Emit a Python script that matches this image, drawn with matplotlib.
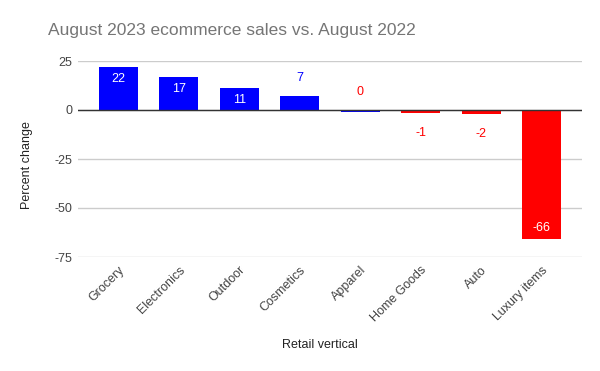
import matplotlib.pyplot as plt
import numpy as np

plt.rcParams['font.family'] = ['Liberation Sans', 'DejaVu Sans']

categories = ['Grocery', 'Electronics', 'Outdoor', 'Cosmetics', 'Apparel',
              'Home Goods', 'Auto', 'Luxury items']
values = [22, 17, 11, 7, -0.9, -1.3, -2.2, -66]
labels = ['22', '17', '11', '7', '0', '-1', '-2', '-66']
bar_colors = ['#0000ff', '#0000ff', '#0000ff', '#0000ff', '#0000ff',
              '#ff0000', '#ff0000', '#ff0000']
# where the label goes: inside the bar or outside of it
label_inside = [True, True, True, False, False, False, False, True]
label_colors = ['white', 'white', 'white', '#0000ff', '#ff0000',
                '#ff0000', '#ff0000', 'white']
yticks = [25, 0, -25, -50, -75]

fig = plt.figure(figsize=(6, 3.71), dpi=100)
ax = fig.add_axes([78/600, 1-257/371, 504/600, 196/371])

x = np.arange(len(categories))
ax.bar(x, values, width=0.645, color=bar_colors, zorder=3)

for xi, v, lab, inside, c in zip(x, values, labels, label_inside, label_colors):
    anchor = v
    if inside:
        off = -12 if v > 0 else 11
    elif lab == '0':
        anchor, off = 0, 18
    else:
        off = 18 if v > 0 else -20
    ax.annotate(lab, (xi, anchor), xytext=(0, off), textcoords='offset pixels',
                ha='center', va='center', color=c, fontsize=9, zorder=4)

ax.set_xlim(-0.67, 7.67)
ax.set_ylim(-75, 25)
ax.set_yticks(yticks)
ax.set_yticklabels([str(t) for t in yticks])
ax.grid(axis='y', color='#cccccc', linewidth=1, zorder=0)
ax.axhline(0, color='#333333', linewidth=1, zorder=3.5)
for s in ax.spines.values():
    s.set_visible(False)
ax.tick_params(axis='both', length=0, labelsize=9, labelcolor='#444444')
ax.tick_params(axis='y', pad=4)
ax.set_xticks(x)
ax.set_xticklabels(categories, rotation=45, ha='right', rotation_mode='anchor')
ax.tick_params(axis='x', pad=5)

fig.text(48/600, 1-30/371, 'August 2023 ecommerce sales vs. August 2022',
         fontsize=12.5, color='#757575', va='center', ha='left')
fig.text(320/600, 1-345/371, 'Retail vertical', fontsize=9, color='#222222',
         ha='center', va='center')
fig.text(27/600, 1-165/371, 'Percent change', fontsize=9, color='#222222',
         ha='center', va='center', rotation=90)

fig.savefig('out.png', dpi=100)
